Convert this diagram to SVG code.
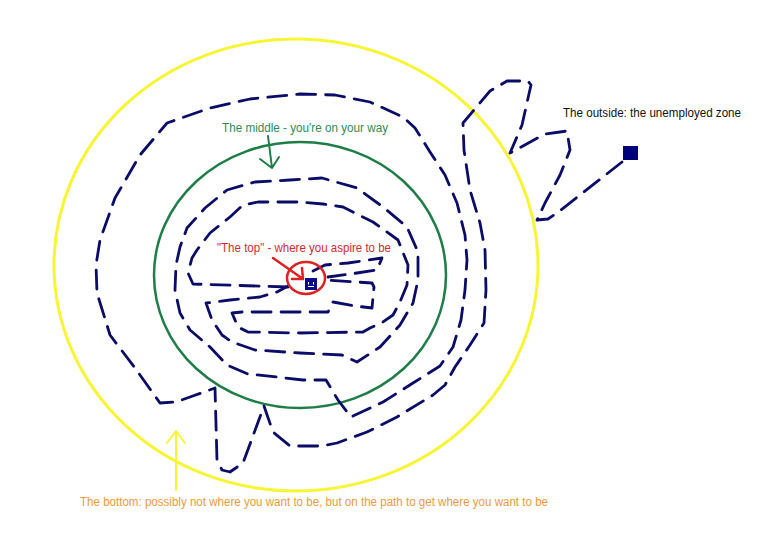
<svg xmlns="http://www.w3.org/2000/svg" width="758" height="542" viewBox="0 0 758 542">
<style>
.path{fill:none;stroke:#0b0b68;stroke-width:2.8;stroke-dasharray:19 10;stroke-linecap:round;stroke-linejoin:round}
.lbl{font-family:"Liberation Sans",Arial,sans-serif;font-size:12.5px}
</style>
<rect width="758" height="542" fill="#ffffff"/>
<g id="zones">
<ellipse id="outer-zone" cx="296" cy="265" rx="242" ry="226" fill="none" stroke="#f8f535" stroke-width="3"/>
<ellipse id="middle-zone" cx="300" cy="275" rx="146" ry="133" fill="none" stroke="#1f7d47" stroke-width="2.5"/>
</g>
<g id="connectors">
<polyline class="path" points="622,162 557,213 548,219 537,220 545,203 560,175 570,150 567,131 545,134 510,153 522,125 531,85 528,81 507,81 490,91 463,123 464,150 470,190 480,223 485,250 486,290 484,323 470,345 455,367 445,385 433,395 397,417 367,432 337,443 322,446 290,446 273,432 264,406 243,463 230,472 222,470 217,460 215,388 190,397 176,402 160,403 135,368 110,335 97,293 96,265 100,240 115,198 140,155 167,123 210,108 250,99 300,94 335,95 370,102 403,117 415,128 430,152 445,175 457,203 465,235 467,260 465,290 461,320 453,347 440,366 413,383 383,402 351,417 338,400 326,380 303,380 277,377 248,374 227,365 210,347 190,330 180,313 175,290 176,265 180,247 187,228 205,208 227,190 255,182 290,180 322,178 357,188 383,207 407,227 418,252 418,280 413,303 400,325 380,347 357,362 342,355 300,353 255,350 232,342 222,335 212,320 206,303 230,300 260,297 277,292 288,286"/>
<polyline class="path" points="288,287 193,284 188,273 192,258 197,250 210,233 230,217 243,205 258,202 300,202 323,204 343,207 373,222 398,240 408,265 407,285 400,302 393,315 383,322 370,328 363,332 300,333 248,332 238,327 232,313 242,312 320,312 328,312 333,302 355,306 372,308 374,287 372,283 326,280"/>
<polyline class="path" points="313,271 325,265 348,263 382,258 377,270 357,273 328,277"/>
</g>
<g id="node-outside">
<rect x="623" y="146" width="15" height="14" fill="#00007a"/>
<text class="lbl" x="563" y="117" fill="#111111" textLength="178" lengthAdjust="spacingAndGlyphs">The outside: the unemployed zone</text>
</g>
<g id="node-top">
<ellipse cx="306" cy="278" rx="19" ry="16" fill="none" stroke="#dd2222" stroke-width="2.5"/>
<rect x="305" y="278" width="12" height="12" fill="#0a0a8a"/>
<path d="M308.5 282v2.5M313.5 282v2.5M308 286.5h6" stroke="#ffffff" stroke-width="1" fill="none"/>
<text class="lbl" x="217" y="252" fill="#d62a2d" textLength="174" lengthAdjust="spacingAndGlyphs">"The top" - where you aspire to be</text>
<path d="M273 258L303 279M302 268L303 279L292 279" stroke="#dd2222" stroke-width="2.5" fill="none" stroke-linecap="round" stroke-linejoin="round"/>
</g>
<g id="node-middle">
<text class="lbl" x="222" y="132" fill="#2e8b57" textLength="166" lengthAdjust="spacingAndGlyphs">The middle - you're on your way</text>
<path d="M268 136L272 168M260 159L272 168L279 157" stroke="#1f7d47" stroke-width="2" fill="none" stroke-linecap="round" stroke-linejoin="round"/>
</g>
<g id="node-bottom">
<text class="lbl" x="80" y="506" fill="#ef9a3a" textLength="468" lengthAdjust="spacingAndGlyphs">The bottom: possibly not where you want to be, but on the path to get where you want to be</text>
<path d="M176 490V431M167 443L176 431L185 443" stroke="#f8f535" stroke-width="2" fill="none" stroke-linecap="round" stroke-linejoin="round"/>
</g>
</svg>
